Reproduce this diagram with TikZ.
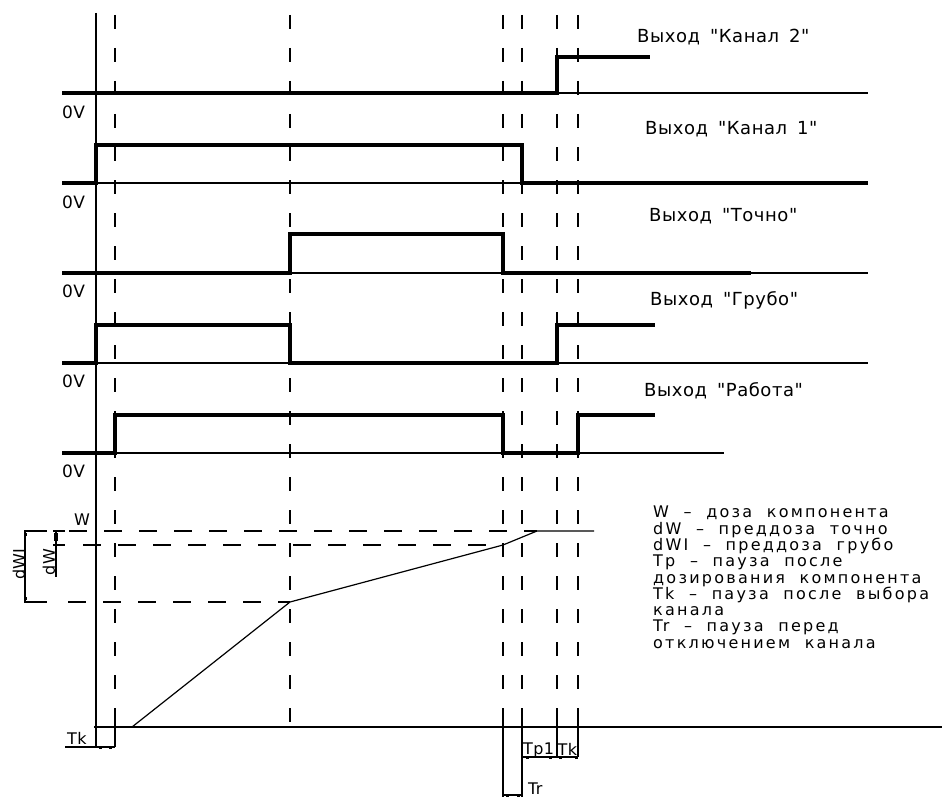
\documentclass[tikz,border=0pt]{standalone}
\usepackage{fontspec}
\setmainfont{DejaVu Sans}
\newfontfamily\labfont{DejaVu Sans}[LetterSpace=3,WordSpace=1.6]
\newfontfamily\legfont{DejaVu Sans}[LetterSpace=14,WordSpace=2]
\newfontfamily\dimfont{DejaVu Sans}[LetterSpace=2]
\begin{document}
\begin{tikzpicture}[x=1pt,y=-1pt,
  sig/.style={line width=4.4pt, line join=miter},
  thinline/.style={line width=1.2pt},
  vdash/.style={line width=1.2pt, dash pattern=on 14pt off 19pt},
  hdash/.style={line width=1.2pt, dash pattern=on 18pt off 17pt},
  lbl/.style={anchor=west, inner sep=0pt, font=\labfont\fontsize{18}{21}\selectfont},
  volt/.style={anchor=west, inner sep=0pt, font=\dimfont\fontsize{17}{20}\selectfont},
  dimtxt/.style={inner sep=0pt, font=\dimfont\fontsize{16}{19}\selectfont}
]
\useasboundingbox (0,0) rectangle (942,797);
\fill[white] (0,0) rectangle (942,797);

% dashed time markers
\foreach \x in {115,290,503,522,557,578}
  \draw[vdash] (\x,15) -- (\x,727);

% main axis
\draw[thinline] (96,13) -- (96,747);
\draw[thinline] (94,727) -- (942,727);

% Row 1: Канал 2
\draw[thinline] (62,93) -- (868,93);
\draw[sig] (62,93) -- (557,93) -- (557,57) -- (650,57);
% Row 2: Канал 1
\draw[thinline] (62,183) -- (868,183);
\draw[sig] (62,183) -- (96,183) -- (96,145) -- (522,145) -- (522,183) -- (868,183);
% Row 3: Точно
\draw[thinline] (62,273) -- (868,273);
\draw[sig] (62,273) -- (290,273) -- (290,234) -- (503,234) -- (503,273) -- (751,273);
% Row 4: Грубо
\draw[thinline] (62,363) -- (868,363);
\draw[sig] (62,363) -- (96,363) -- (96,325) -- (290,325) -- (290,363) -- (557,363) -- (557,325) -- (655,325);
% Row 5: Работа
\draw[thinline] (62,453) -- (724,453);
\draw[sig] (62,453) -- (115,453) -- (115,415) -- (503,415) -- (503,453) -- (578,453) -- (578,415) -- (655,415);

% labels
\node[lbl] (l2) at (637,37) {Выход "Канал 2"};
\node[lbl] (l1) at (645,129) {Выход "Канал 1"};
\node[lbl] (lt) at (649,216) {Выход "Точно"};
\node[lbl] (lg) at (650,300) {Выход "Грубо"};
\node[lbl] (lr) at (644,391) {Выход "Работа"};

\node[volt] (v1) at (62,112) {0V};
\node[volt] (v2) at (62,202) {0V};
\node[volt] (v3) at (62,291) {0V};
\node[volt] (v4) at (62,381) {0V};
\node[volt] (v5) at (62,471) {0V};

% weight curve
\draw[hdash] (69,531) -- (537,531);
\draw[hdash] (83,545) -- (503,545);
\draw[hdash] (68,602) -- (290,602);
\draw[thinline] (132,727) -- (290,602) -- (503,545) -- (537,531) -- (594,531);

% left dimensions
\draw[thinline] (24,531) -- (47,531);
\draw[thinline] (24,602) -- (47,602);
\draw[thinline] (25,531) -- (25,602);
\fill (23.5,532.5) rectangle (26.5,535.5);
\fill (23.5,597) rectangle (26.5,600);
\draw[thinline] (53,531) -- (65,531);
\draw[thinline] (53,545) -- (65,545);
\draw[thinline] (56,531) -- (56,577);
\fill (54.3,533) rectangle (57.7,541);
\node[dimtxt, rotate=90] (dwi) at (19,564) {dWI};
\node[dimtxt, rotate=90] (dw) at (49,562) {dW};
\node[dimtxt] (wl) at (82,520) {W};

% Tk left
\draw[thinline] (115,718) -- (115,747);
\draw[thinline] (65,747) -- (115,747);
\fill (98.5,745.5) rectangle (101.5,748.5);
\fill (108.5,745.5) rectangle (111.5,748.5);
\node[dimtxt, anchor=base west] (tkl) at (67,744) {Tk};

% bottom right dimensions
\draw[thinline] (503,717) -- (503,800);
\draw[thinline] (522,717) -- (522,800);
\draw[thinline] (557,717) -- (557,757);
\draw[thinline] (578,717) -- (578,757);
\draw[thinline] (522,757) -- (578,757);
\draw[thinline] (503,795) -- (522,795);
\foreach \x in {527,550,560,576}
  \fill (\x-1.5,755.5) rectangle (\x+1.5,758.5);
\foreach \x in {507,518}
  \fill (\x-1.5,793.5) rectangle (\x+1.5,796.5);
\node[dimtxt, anchor=base west] (tp1) at (523,754) {Tp1};
\node[dimtxt, anchor=base west] (tkr) at (557.5,755) {Tk};
\node[dimtxt, anchor=base west] (tr) at (528,794) {Tr};

% legend
\node[anchor=north west, align=left, inner sep=0pt,
      font=\legfont\fontsize{16}{16.3}\selectfont] (legend) at (653,506)
  {W – доза компонента\\
   dW – преддоза точно\\
   dWI – преддоза грубо\\
   Tp – пауза после\\
   дозирования компонента\\
   Tk – пауза после выбора\\
   канала\\
   Tr – пауза перед\\
   отключением канала};
\end{tikzpicture}
\end{document}
